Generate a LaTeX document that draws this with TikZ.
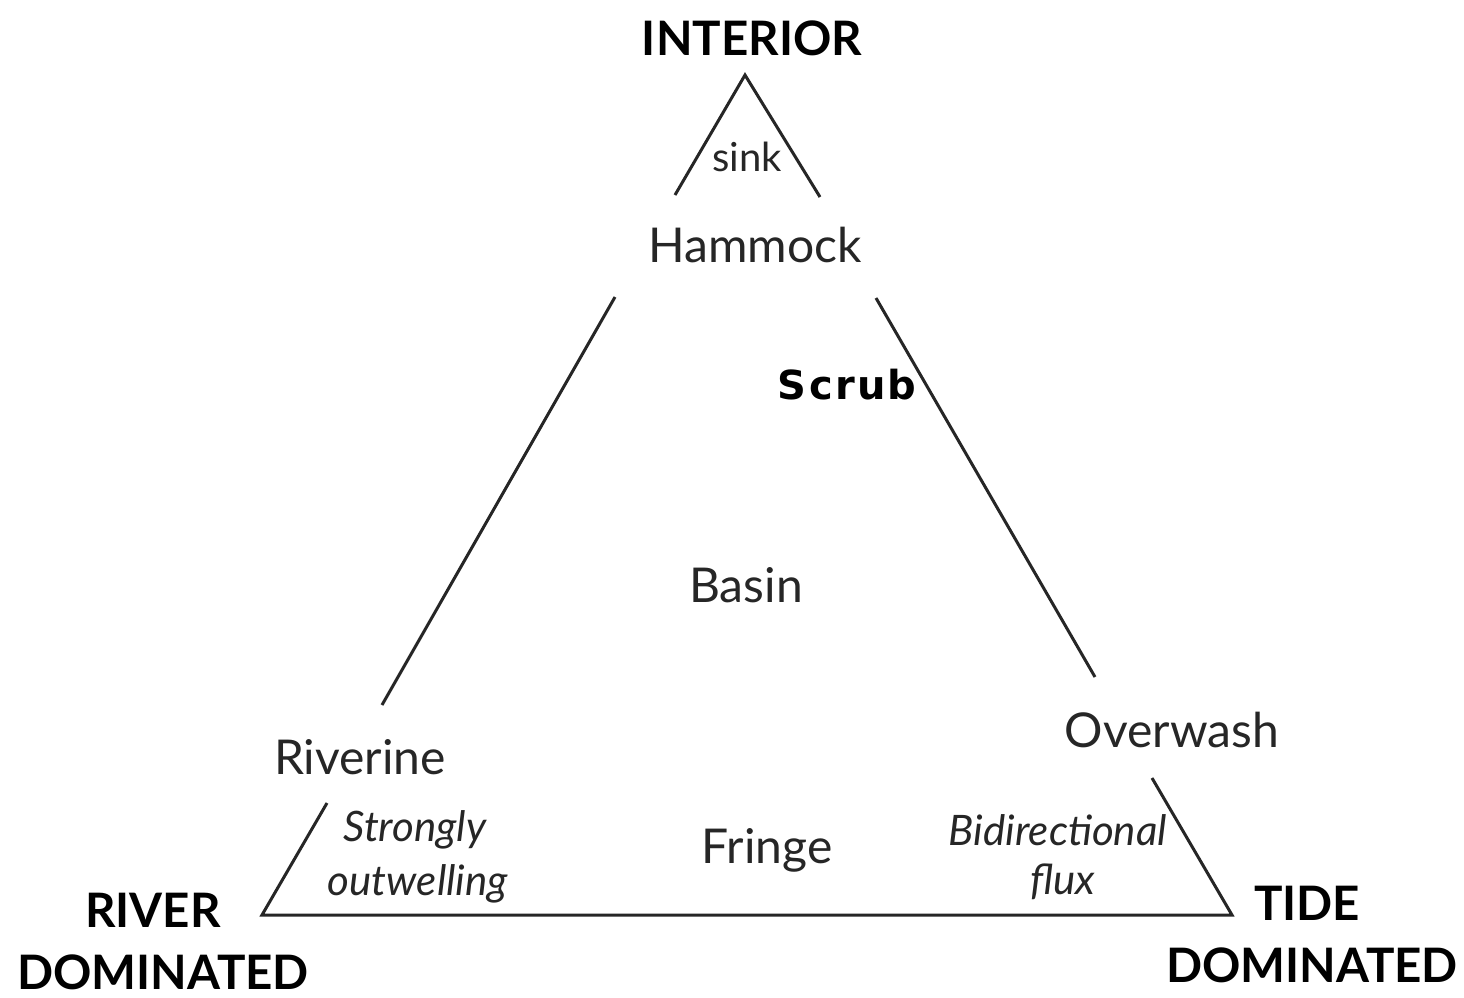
\documentclass[tikz,border=0pt]{standalone}
\usepackage{fontspec}
\setmainfont{Lato}
\newfontfamily\scrubfont{DejaVu Sans}
\begin{document}
\begin{tikzpicture}[x=1pt,y=-1pt,
  edge/.style={line width=3pt, draw=black!85},
  headlbl/.style={font=\fontsize{47.5}{50}\selectfont\bfseries, inner sep=0pt},
  zone/.style={font=\fontsize{48}{52}\selectfont, text=black!85, inner sep=0pt},
  flow/.style={font=\fontsize{42}{46}\selectfont\itshape, text=black!85, inner sep=0pt}]
\useasboundingbox[fill=white] (0,0) rectangle (1464,997);
% corner coordinates
\coordinate (ta) at (745,75);
\coordinate (tl) at (675,195);
\coordinate (tr) at (820,197);
\coordinate (l1) at (615,297);
\coordinate (l2) at (382,705);
\coordinate (r1) at (876,298);
\coordinate (r2) at (1095,677);
\coordinate (bl1) at (327,803);
\coordinate (bl) at (262,915);
\coordinate (br) at (1232,915);
\coordinate (br1) at (1152,778);
% lines
\draw[edge, line join=miter] (tl) -- (ta) -- (tr);
\draw[edge] (l1) -- (l2);
\draw[edge] (r1) -- (r2);
\draw[edge, line join=miter] (bl1) -- (bl) -- (br) -- (br1);
% labels
\node[headlbl] (interior) at (752,38) {INTERIOR};
\node[font=\fontsize{40}{44}\selectfont, text=black!85, inner sep=0pt] (sink) at (747,157) {sink};
\node[zone] (hammock) at (755,245) {Hammock};
\node[font=\scrubfont\fontsize{40}{44}\selectfont\bfseries, inner sep=0pt] (scrub) at (847,385) {S\kern3pt c\kern2pt r\kern2pt u\kern2pt b};
\node[zone] (basin) at (746,585) {Basin};
\node[zone] (riverine) at (360,757) {Riverine};
\node[zone] (overwash) at (1172,730) {Overwash};
\node[zone] (fringe) at (767,850) {Fringe};
\node[flow] (strongly) at (415,830) {Strongly};
\node[flow] (outwelling) at (418,884) {outwelling};
\node[flow] (bidir) at (1058,830) {Bidirectional};
\node[flow] (flux) at (1063,882) {flux};
\node[headlbl] (river) at (153,910) {RIVER};
\node[headlbl] (rdom) at (163,972) {DOMINATED};
\node[headlbl] (tide) at (1307,903) {TIDE};
\node[headlbl] (tdom) at (1312,965) {DOMINATED};
\end{tikzpicture}
\end{document}
